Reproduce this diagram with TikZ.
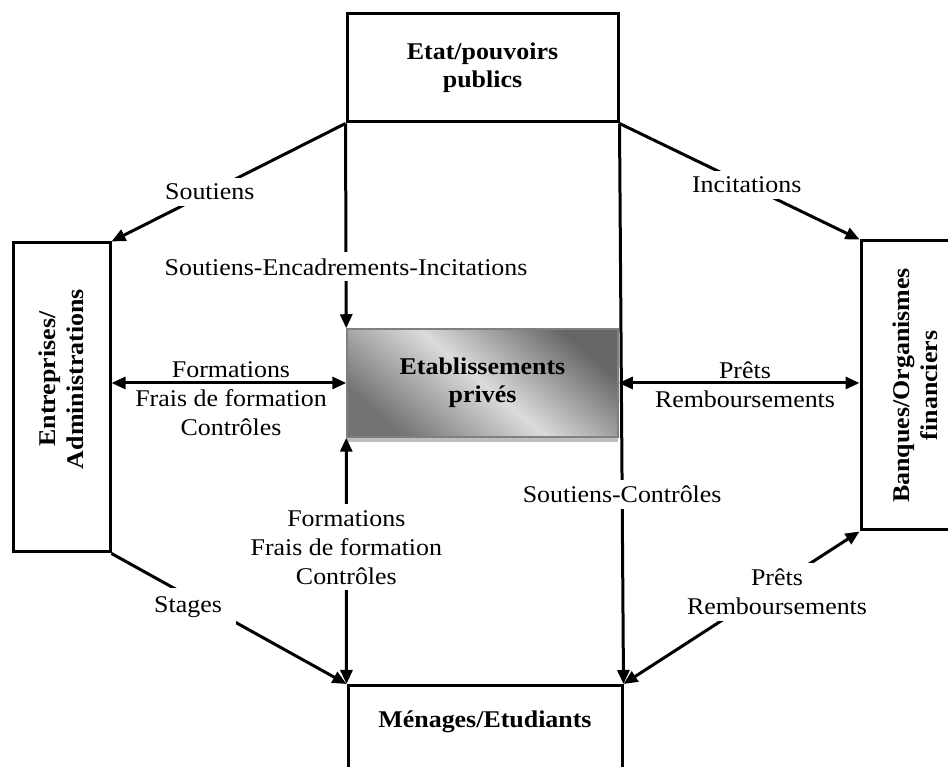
\documentclass[tikz,border=0pt]{standalone}
\usepackage{fontspec}
\setmainfont{Liberation Serif}[FakeStretch=1.08]
\usetikzlibrary{arrows.meta,shadows}
\begin{document}
\begin{tikzpicture}[x=1pt,y=1pt,
  tip/.tip={Triangle[length=14pt,width=12pt]},
  arr/.style={line width=3pt,-tip},
  darr/.style={line width=3pt,tip-tip},
  box/.style={draw, line width=3pt, rectangle, inner sep=0pt},
  bt/.style={font=\bfseries\fontsize{24}{28}\selectfont, align=center},
  lab/.style={font=\fontsize{24}{29}\selectfont, align=center, inner sep=2pt},
  gap/.style={lab, fill=white, inner xsep=8pt, inner ysep=6pt}]
\useasboundingbox (0,0) rectangle (948,767);
\fill[white] (0,0) rectangle (948,767);

% boxes
\node[box, minimum width=271pt, minimum height=108pt, bt] (etat) at (482.5,699) {Etat/pouvoirs\\publics};
\node[box, minimum width=97pt, minimum height=309pt] (ent) at (61.5,369.5) {};
\node[bt, rotate=90] (entt) at (61.5,388) {Entreprises/\\Administrations};
\node[box, minimum width=108pt, minimum height=289pt] (banq) at (915,381.5) {};
\node[bt, rotate=90] (banqt) at (915,381.5) {Banques/Organismes\\financiers};
\node[box, minimum width=274pt, minimum height=140pt, anchor=north] (men) at (485,83) {};
\node[bt] (ment) at (485,45) {Ménages/Etudiants};
\node[draw=black!50, line width=1.5pt, minimum width=271pt, minimum height=108pt,
  top color=black!60, bottom color=black!55, middle color=black!14, shading angle=-40,
  general shadow={fill=black!25, shadow yshift=-5pt}, bt] (etab) at (482.5,384) {Etablissements\\privés};

% connectors
\draw[arr] (etat.south west) -- (ent.north east) node[gap, pos=0.58] {Soutiens};
\draw[arr] (etat.south east) -- (banq.north west) node[gap, pos=0.53] {Incitations};
\draw[arr] (etat.south west) -- (etab.north west) node[gap, pos=0.70, inner xsep=2pt] {Soutiens-Encadrements-Incitations};
\draw[arr] (etat.south east) -- (men.north east) node[gap, pos=0.662, inner xsep=2pt] {Soutiens-Contrôles};
\draw[darr] (etab.west -| ent.east) -- (etab.west);
\node[lab] (l1) at (231,368) {Formations\\Frais de formation\\Contrôles};
\draw[darr] (etab.east) -- (etab.east -| banq.west);
\node[lab] (l2) at (745,382) {Prêts\\Remboursements};
\draw[darr] (etab.south west) -- (men.north west) node[gap, pos=0.445, inner xsep=2pt] {Formations\\Frais de formation\\Contrôles};
\draw[arr] (ent.south east) -- (men.north west);
\node[gap, inner xsep=14pt, inner ysep=8pt] (st) at (188,160) {Stages};
\draw[darr] (banq.south west) -- (men.north east);
\node[gap, inner xsep=2pt] (pr) at (777,175) {Prêts\\Remboursements};
\end{tikzpicture}
\end{document}
